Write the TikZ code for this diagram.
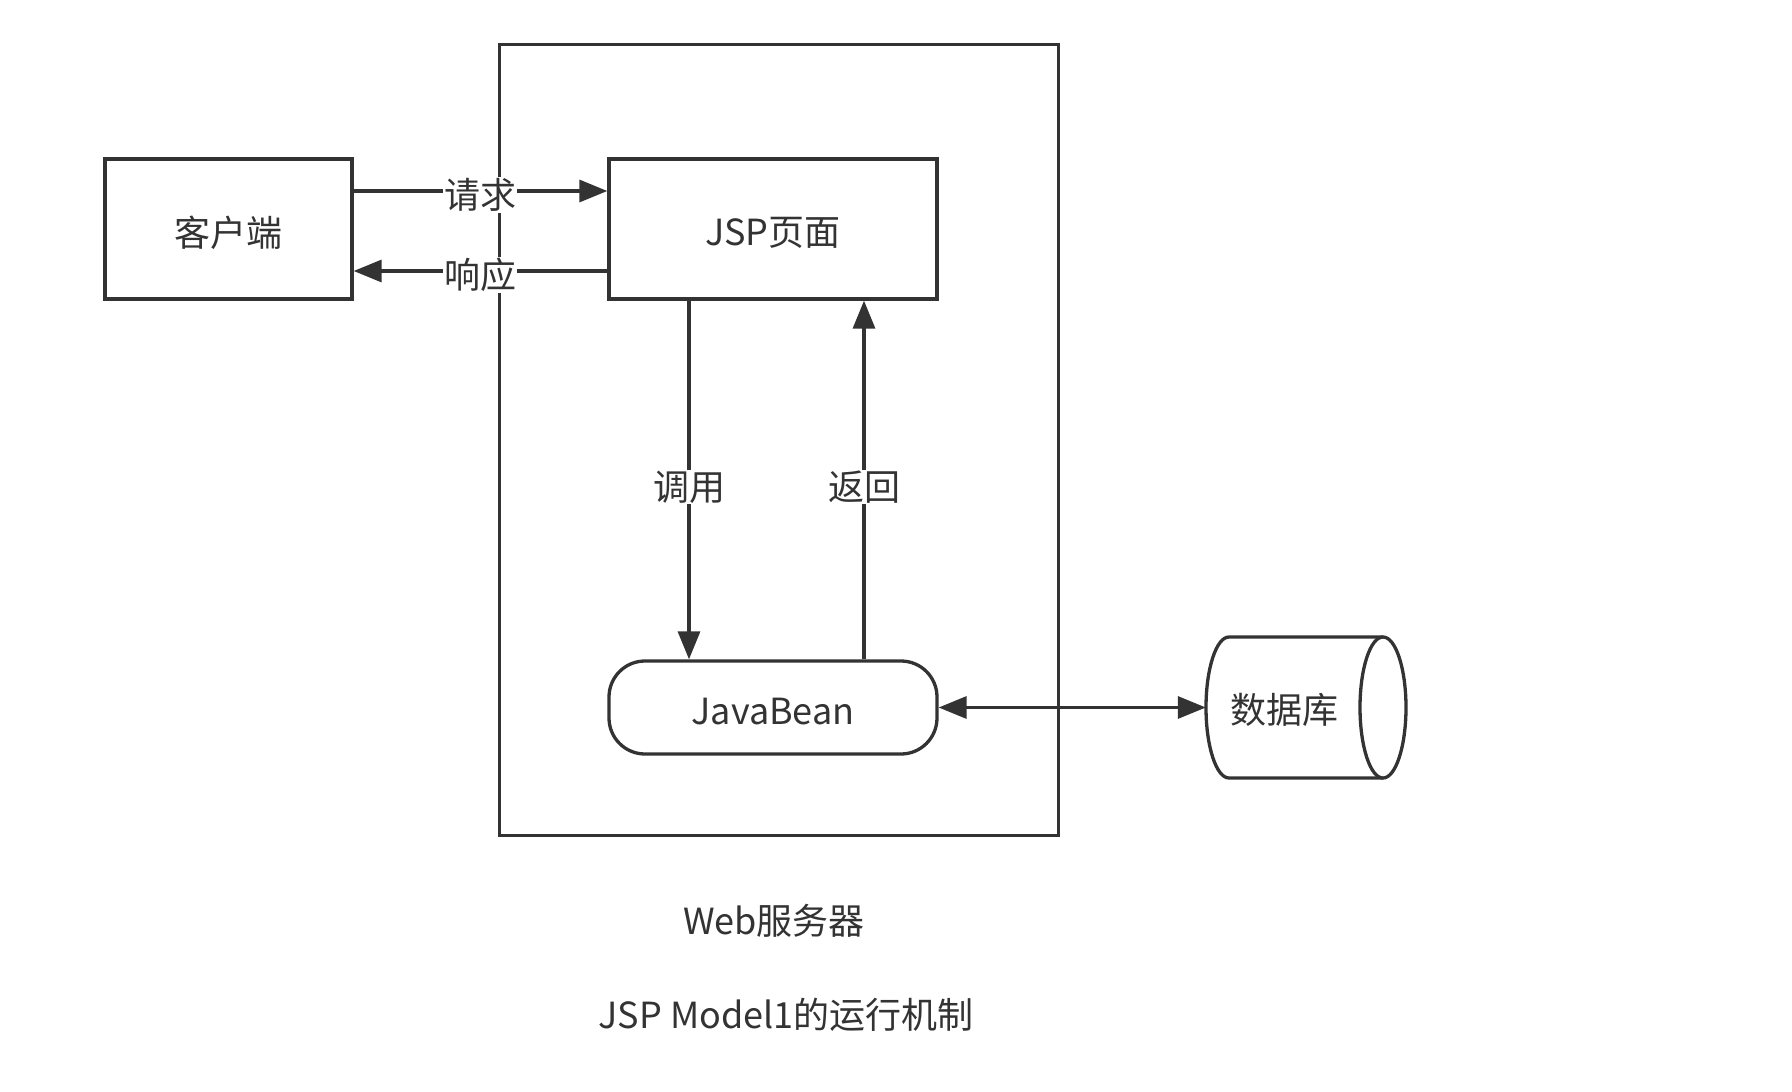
\documentclass[tikz,border=0pt]{standalone}
\usepackage{fontspec}
\setmainfont{Noto Sans CJK SC}
\usetikzlibrary{arrows.meta}
\definecolor{ink}{HTML}{333333}
\newcommand{\lowr}[1]{\raisebox{-4pt}[\height][\depth]{#1}}
\tikzset{
  box/.style={draw=ink, line width=3.3pt, fill=white, text=ink, font=\fontsize{36}{40}\selectfont, inner sep=0pt},
  lbl/.style={text=ink, font=\fontsize{36}{40}\selectfont, fill=white, inner sep=1pt},
  plain/.style={text=ink, font=\fontsize{36}{40}\selectfont, inner sep=0pt},
  arr/.style={draw=ink, line width=3.3pt, -{Triangle[length=28pt,width=22pt]}},
  darr/.style={draw=ink, line width=3.3pt, {Triangle[length=28pt,width=22pt]}-{Triangle[length=28pt,width=22pt]}},
}
\begin{document}
\begin{tikzpicture}[x=1pt,y=-1pt]
\useasboundingbox (0,0) rectangle (1792,1092);
% web server frame
\node[draw=ink, line width=3.3pt, minimum width=559pt, minimum height=791pt, inner sep=0pt] (web) at (779,440) {};
% nodes
\node[box, minimum width=247pt, minimum height=140pt] (client) at (228.5,229) {\lowr{客户端}};
\node[box, minimum width=328pt, minimum height=140pt] (jsp) at (773,229) {\lowr{JSP页面}};
\node[box, rounded corners=36pt, minimum width=328pt, minimum height=93pt] (bean) at (773,707.5) {\lowr{JavaBean}};
% database cylinder
\coordinate (dbtl) at (1229,637);
\draw[draw=ink, line width=3.3pt, fill=white] (1383,637) -- (dbtl) arc[start angle=90, end angle=270, x radius=23pt, y radius=70.5pt] -- (1383,778);
\draw[draw=ink, line width=3.3pt, fill=white] (1383,707.5) ellipse [x radius=23pt, y radius=70.5pt];
\node[plain, minimum width=200pt, minimum height=141pt] (db) at (1306,707.5) {};
\node[plain] (dbt) at (1284,710) {数据库};
% connectors
\coordinate (reqy) at (0,191);
\coordinate (resy) at (0,271);
\draw[arr] (client.east |- reqy) -- (jsp.west |- reqy);
\draw[arr] (jsp.west |- resy) -- (client.east |- resy);
\coordinate (callx) at (689,0);
\coordinate (retx) at (864,0);
\draw[arr] (jsp.south -| callx) -- (bean.north -| callx);
\draw[arr] (bean.north -| retx) -- (jsp.south -| retx);
\draw[darr] (bean.east) -- (db.west);
% labels
\node[lbl] (lreq) at (480,195) {请求};
\node[lbl] (lres) at (480,275) {响应};
\node[lbl] (lcall) at (689,487) {调用};
\node[lbl] (lret) at (864,487) {返回};
% captions
\node[plain] (cap1) at (774,921) {Web服务器};
\node[plain] (cap2) at (786,1015) {JSP Model1的运行机制};
\end{tikzpicture}
\end{document}
